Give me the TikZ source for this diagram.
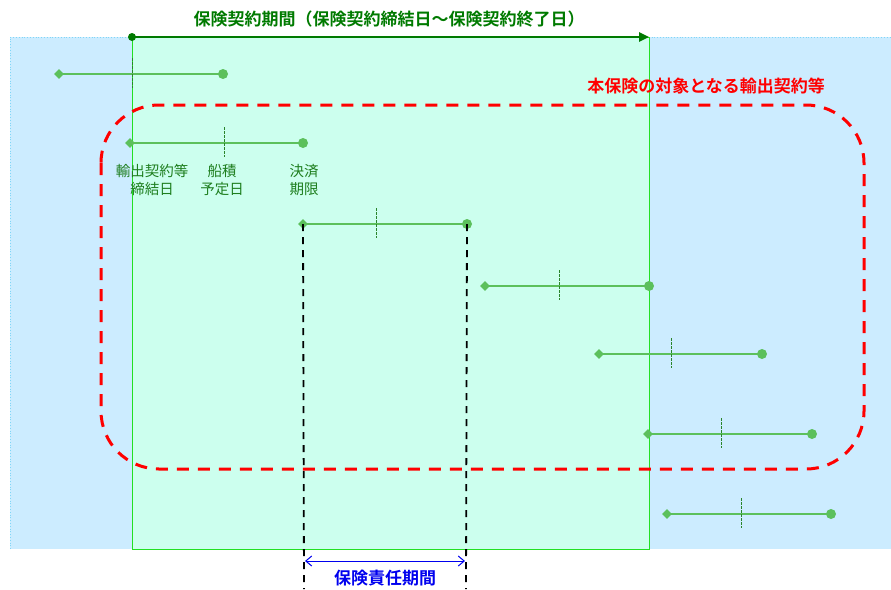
\documentclass[tikz,border=0pt]{standalone}
\usepackage{fontspec}
\newfontfamily\jp{Noto Sans CJK JP}[BoldFont={Noto Sans CJK JP Bold}]
\usetikzlibrary{arrows.meta,shapes.geometric}
\definecolor{bgblue}{HTML}{CCECFF}
\definecolor{bgmint}{HTML}{CCFFEE}
\definecolor{edgegreen}{HTML}{22E022}
\definecolor{darkgreen}{HTML}{007A00}
\definecolor{linegreen}{HTML}{5CC05C}
\definecolor{tickgreen}{HTML}{2A842A}
\definecolor{labelgreen}{HTML}{1E7E1E}
\definecolor{myred}{HTML}{FF0000}
\definecolor{myblue}{HTML}{0000EE}
\tikzset{
  contract/.style={draw=linegreen, line width=1.8pt},
  ticky/.style={draw=tickgreen, line width=1pt, dash pattern=on 3pt off 1pt},
  ldiam/.style={diamond, fill=linegreen, inner sep=0pt, minimum size=10pt},
  rdot/.style={circle, fill=linegreen, inner sep=0pt, minimum size=10pt},
  lbl/.style={text=labelgreen, font=\jp\fontsize{14.5}{18}\selectfont, align=center, inner sep=0pt},
  bigtxt/.style={font=\jp\bfseries\fontsize{17}{20}\selectfont, inner sep=0pt},
}
\begin{document}
\begin{tikzpicture}[x=1pt,y=-1pt]
\useasboundingbox (0,0) rectangle (891,589);
% backgrounds
\fill[bgblue] (10,37) rectangle (891,549);
\draw[draw=cyan!50, dotted, line width=0.8pt] (10,549) -- (10,37) -- (891,37);
\fill[bgmint] (132,37) rectangle (649,549);
\draw[edgegreen, line width=1pt] (132,37) rectangle (649,549);
% title arrow
\node[circle, fill=darkgreen, inner sep=0pt, minimum size=8pt] (ps) at (132,37) {};
\coordinate (pe) at (649,37);
\draw[darkgreen, line width=2.4pt, -{Triangle[length=10pt,width=9pt]}] (ps.center) -- (pe);
\node[text=darkgreen, bigtxt] (title) at (389,19) {保険契約期間（保険契約締結日～保険契約終了日）};
% red region
\draw[myred, line width=3pt, dash pattern=on 12pt off 9pt, rounded corners=58pt] (101,105) rectangle (864,469);
\node[text=myred, bigtxt] (scope) at (706,86) {本保険の対象となる輸出契約等};
% contracts
\foreach \i/\xa/\xb/\xt/\yy in {1/59/223/132/74, 2/130/303/224/143, 3/303/467/376/224, 4/485/649/559/286, 5/599/762/671/354, 6/648/812/721/434, 7/667/831/741/514}{
  \node[ldiam] (a\i) at (\xa,\yy) {};
  \node[rdot] (b\i) at (\xb,\yy) {};
  \coordinate (t\i u) at (\xt,\yy-16);
  \coordinate (t\i d) at (\xt,\yy+14);
  \draw[contract] (a\i.center) -- (b\i.center);
  \draw[ticky] (t\i u) -- (t\i d);
}
% labels
\node[lbl] (l1) at (152,180) {輸出契約等\\締結日};
\node[lbl] (l2) at (222,180) {船積\\予定日};
\node[lbl] (l3) at (304,180) {決済\\期限};
% liability period
\coordinate (d1) at (304,589);
\coordinate (d2) at (466,589);
\draw[black, line width=1.8pt, dash pattern=on 7pt off 6pt] (a3.center) -- (d1);
\draw[black, line width=1.8pt, dash pattern=on 7pt off 6pt] (b3.center) -- (d2);
\coordinate (r1) at (305,561);
\coordinate (r2) at (465,561);
\draw[myblue, line width=1pt, {Straight Barb[length=6pt,width=10pt]}-{Straight Barb[length=6pt,width=10pt]}] (r1) -- (r2);
\node[text=myblue, bigtxt] (resp) at (385,578) {保険責任期間};
\end{tikzpicture}
\end{document}
